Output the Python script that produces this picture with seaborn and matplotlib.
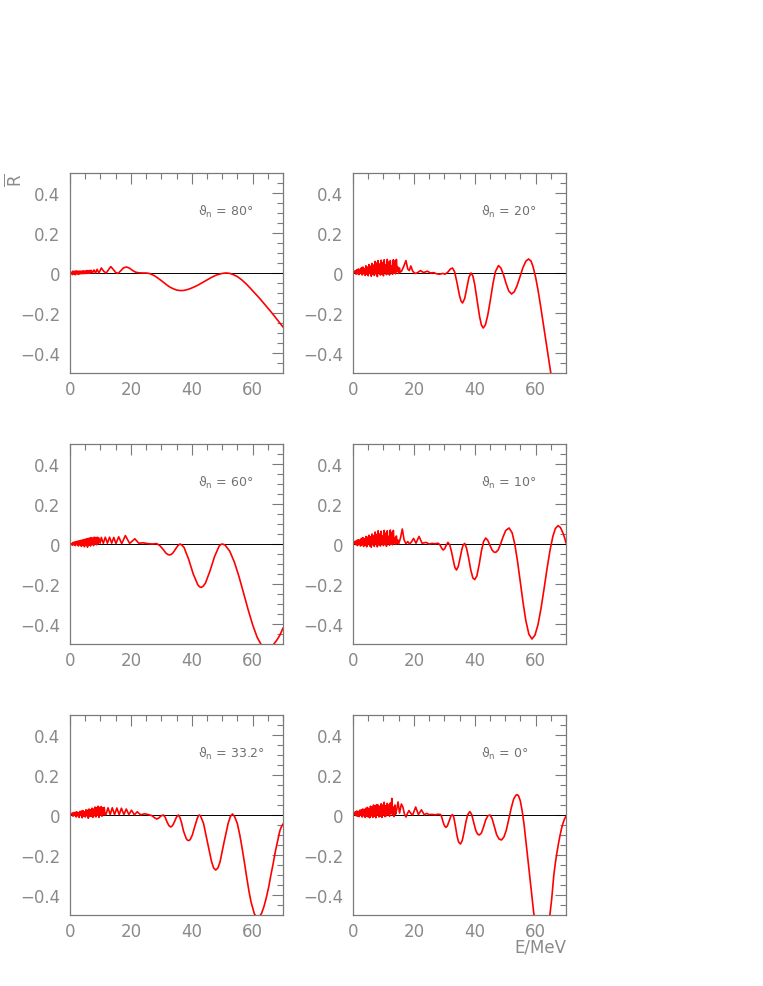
import numpy as np
import matplotlib
matplotlib.use("Agg")
import matplotlib.pyplot as plt
import seaborn as sns

# ---------------- data ----------------
E_80 = [0.5, 0.75, 1.0, 1.25, 1.5, 1.75, 2.0, 2.25, 2.5, 2.75, 3.0, 3.25, 3.5, 3.75,
        4.0, 4.25, 4.5, 4.75, 5.0, 5.25, 5.5, 5.75, 6.0, 6.25, 6.5, 6.75, 7.0,
        7.4, 7.9, 8.4, 8.9, 9.5, 10.3, 11.1, 11.9, 12.6, 13.4, 14.2, 15.0, 15.8, 16.6,
        17.6, 18.6, 19.6, 20.6, 21.6, 22.6, 24.0, 25.0, 26.0, 27.0, 28.0, 29.0, 30.0,
        31.0, 32.0, 33.0, 34.0, 35.0, 36.2, 37.5, 39.0, 40.5, 42.0, 43.5, 45.0, 46.5,
        48.0, 49.5, 50.5, 51.5, 52.5, 53.5, 55.0, 56.5, 58.0, 59.5, 61.0, 62.5, 64.0,
        65.5, 67.0, 68.5, 70.0]
R_80 = [0.004, -0.008, 0.010, -0.006, 0.008, -0.009, 0.011, -0.004, 0.009, -0.007, 0.010,
        -0.005, 0.009, -0.003, 0.010, -0.004, 0.011, -0.002, 0.010, -0.003, 0.012, -0.001,
        0.011, -0.002, 0.013, 0.000, 0.013,
        0.001, 0.015, 0.000, 0.018, 0.000, 0.025, 0.008, 0.000, 0.015, 0.032, 0.018, 0.003,
        -0.002, 0.010, 0.026, 0.030, 0.024, 0.012, 0.004, 0.001, 0.000, 0.000, -0.002,
        -0.008, -0.016, -0.027, -0.038, -0.050, -0.062, -0.072, -0.079, -0.085, -0.088,
        -0.087, -0.081, -0.072, -0.061, -0.048, -0.035, -0.022, -0.011, -0.004, -0.001,
        0.000, -0.002, -0.007, -0.018, -0.035, -0.056, -0.080, -0.105, -0.130, -0.157,
        -0.184, -0.212, -0.241, -0.270]

E_20 = [0.5, 0.75, 1.0, 1.25, 1.5, 1.75, 2.0, 2.25, 2.5, 2.75, 3.0, 3.25, 3.5, 3.75,
        4.0, 4.25, 4.5, 4.75, 5.0, 5.25, 5.5, 5.75, 6.0, 6.25, 6.5, 6.75, 7.0, 7.25,
        7.5, 7.75, 8.0, 8.25, 8.5, 8.75, 9.0, 9.25, 9.5, 9.75, 10.0, 10.25, 10.5, 10.75,
        11.0, 11.25, 11.5, 11.75, 12.0, 12.25, 12.5, 12.75, 13.0, 13.25, 13.5, 13.75,
        14.0, 14.25, 14.5, 14.75, 15.0, 15.25, 15.5,
        16.0, 16.6, 17.4, 18.0, 18.5, 19.0, 19.6, 20.3, 21.0, 22.2, 23.2, 24.4, 25.5,
        26.5, 27.5, 28.5, 29.5, 30.3, 31.2, 32.0, 32.7, 33.4, 34.2, 35.0, 35.5, 36.0,
        36.7, 37.4, 38.1, 38.8, 39.4, 40.0, 40.8, 41.6, 42.2, 42.8, 43.5, 44.3, 45.2,
        46.0, 46.8, 47.8, 48.6, 49.4, 50.3, 51.2, 52.1, 53.0, 53.9, 54.9, 55.8, 56.8,
        57.7, 58.5, 59.2, 60.0, 60.8, 61.6, 62.5, 63.4, 64.2, 65.0, 66.5, 70.0]
R_20 = [0.002, 0.012, -0.006, 0.016, -0.004, 0.020, -0.008, 0.018, -0.002, 0.026, -0.010,
        0.030, -0.004, 0.022, -0.012, 0.036, -0.006, 0.030, -0.014, 0.042, 0.000, 0.034,
        -0.016, 0.048, -0.006, 0.040, -0.012, 0.058, -0.004, 0.050, -0.018, 0.062, 0.002,
        0.045, -0.010, 0.064, -0.006, 0.052, -0.014, 0.066, 0.004, 0.040, -0.008, 0.068,
        -0.004, 0.055, -0.010, 0.062, 0.006, 0.035, -0.006, 0.066, 0.000, 0.060, -0.004,
        0.068, 0.010, 0.030, -0.002, 0.025, 0.004,
        0.010, 0.030, 0.062, 0.020, 0.012, 0.035, 0.010, -0.002, 0.000, 0.012, 0.002,
        0.009, 0.000, 0.002, -0.004, -0.006, -0.002, -0.006, 0.005, 0.020, 0.025, 0.006,
        -0.050, -0.113, -0.140, -0.150, -0.128, -0.075, -0.022, 0.000, -0.015, -0.057,
        -0.138, -0.218, -0.260, -0.275, -0.260, -0.210, -0.130, -0.053, 0.007, 0.037,
        0.025, -0.006, -0.052, -0.090, -0.105, -0.094, -0.064, -0.018, 0.025, 0.059,
        0.070, 0.060, 0.030, -0.020, -0.085, -0.160, -0.250, -0.340, -0.420, -0.500,
        -0.640, -0.950]

E_60 = [0.5, 0.75, 1.0, 1.25, 1.5, 1.75, 2.0, 2.25, 2.5, 2.75, 3.0, 3.25, 3.5, 3.75,
        4.0, 4.25, 4.5, 4.75, 5.0, 5.25, 5.5, 5.75, 6.0, 6.25, 6.5, 6.75, 7.0, 7.25,
        7.5, 7.75, 8.0, 8.25, 8.5, 8.75, 9.0, 9.25, 9.5,
        9.9, 10.3, 10.95, 11.6, 12.3, 13.0, 13.7, 14.4, 15.1, 16.0, 17.0, 18.2, 19.6,
        21.3, 22.6, 24.0, 25.5, 27.0, 28.5, 29.5, 30.5, 31.5, 32.1, 32.7, 33.3, 33.8,
        34.4, 35.0, 35.6, 36.2, 36.8, 37.5, 39.0, 40.5, 42.0, 42.6, 43.1, 43.7, 44.5,
        46.0, 47.5, 49.0, 49.5, 50.0, 50.5, 51.0, 52.5, 54.0, 55.5, 57.0, 58.5, 60.0,
        61.5, 63.0, 64.7, 66.5, 68.0, 69.0, 70.0]
R_60 = [0.002, -0.006, 0.008, -0.004, 0.010, -0.008, 0.012, -0.002, 0.014, -0.010, 0.016,
        -0.004, 0.018, -0.012, 0.020, -0.006, 0.022, -0.014, 0.024, -0.004, 0.026, -0.016,
        0.028, -0.006, 0.030, -0.010, 0.032, -0.002, 0.030, -0.008, 0.034, 0.000, 0.032,
        -0.004, 0.034, 0.002, 0.030,
        0.004, 0.033, 0.003, 0.034, 0.004, 0.034, 0.004, 0.033, 0.002, 0.036, 0.002, 0.042,
        0.003, 0.026, 0.004, 0.006, 0.002, 0.000, 0.002, -0.008, -0.025, -0.045, -0.052,
        -0.055, -0.052, -0.045, -0.032, -0.018, -0.006, 0.000, -0.006, -0.018, -0.077,
        -0.150, -0.204, -0.214, -0.217, -0.212, -0.196, -0.135, -0.063, -0.011, -0.003,
        0.000, -0.002, -0.006, -0.036, -0.090, -0.161, -0.243, -0.326, -0.403, -0.466,
        -0.508, -0.525, -0.510, -0.480, -0.455, -0.420]

E_10 = [0.5, 0.75, 1.0, 1.25, 1.5, 1.75, 2.0, 2.25, 2.5, 2.75, 3.0, 3.25, 3.5, 3.75,
        4.0, 4.25, 4.5, 4.75, 5.0, 5.25, 5.5, 5.75, 6.0, 6.25, 6.5, 6.75, 7.0, 7.25,
        7.5, 7.75, 8.0, 8.25, 8.5, 8.75, 9.0, 9.25, 9.5, 9.75, 10.0, 10.25, 10.5, 10.75,
        11.0, 11.25, 11.5, 11.75, 12.0, 12.25, 12.5, 12.75, 13.0, 13.25, 13.5, 13.75,
        14.0, 14.25, 14.5, 14.75, 15.0,
        15.6, 16.2, 16.8, 17.4, 18.0, 18.6, 19.2, 19.9, 20.7, 21.7, 22.7, 24.0, 25.0,
        26.0, 27.0, 28.0, 28.6, 29.1, 29.6, 30.1, 30.6, 31.2, 31.8, 32.4, 33.0, 33.5,
        34.0, 34.6, 35.2, 35.8, 36.2, 36.7, 37.3, 38.0, 38.7, 39.4, 40.0, 40.7, 41.5,
        42.2, 42.9, 43.6, 44.3, 45.0, 45.7, 46.3, 46.9, 47.7, 48.5, 49.3, 50.2, 51.3,
        52.3, 53.2, 54.1, 55.0, 55.9, 56.8, 57.8, 58.8, 59.8, 60.8, 61.8, 62.8, 63.8,
        64.8, 65.7, 66.5, 67.4, 68.2, 69.0, 69.5, 70.0]
R_10 = [0.004, 0.014, -0.004, 0.018, -0.008, 0.022, -0.002, 0.020, -0.010, 0.028, -0.004,
        0.032, -0.012, 0.026, -0.006, 0.038, -0.014, 0.034, 0.000, 0.044, -0.010, 0.036,
        -0.016, 0.050, -0.004, 0.042, -0.012, 0.060, 0.000, 0.048, -0.014, 0.066, -0.004,
        0.050, -0.010, 0.064, 0.002, 0.040, -0.008, 0.068, -0.002, 0.054, -0.012, 0.066,
        0.004, 0.038, -0.006, 0.070, 0.000, 0.058, -0.004, 0.068, 0.006, 0.030, -0.002,
        0.040, 0.004, 0.020, 0.000,
        0.030, 0.075, 0.020, 0.002, 0.012, 0.000, 0.010, 0.028, 0.004, 0.038, 0.004,
        0.008, 0.000, 0.003, 0.001, 0.004, -0.005, -0.020, -0.030, -0.024, -0.008, 0.008,
        -0.005, -0.040, -0.085, -0.118, -0.130, -0.112, -0.070, -0.025, -0.005, 0.003,
        -0.020, -0.070, -0.130, -0.170, -0.178, -0.160, -0.100, -0.035, 0.012, 0.030,
        0.018, -0.006, -0.030, -0.040, -0.042, -0.030, 0.000, 0.035, 0.068, 0.080, 0.056,
        -0.003, -0.090, -0.192, -0.294, -0.383, -0.451, -0.475, -0.456, -0.403, -0.321,
        -0.223, -0.120, -0.027, 0.039, 0.077, 0.092, 0.082, 0.055, 0.033, 0.005]

E_33 = [0.5, 0.75, 1.0, 1.25, 1.5, 1.75, 2.0, 2.25, 2.5, 2.75, 3.0, 3.25, 3.5, 3.75,
        4.0, 4.25, 4.5, 4.75, 5.0, 5.25, 5.5, 5.75, 6.0, 6.25, 6.5, 6.75, 7.0, 7.25,
        7.5, 7.75, 8.0, 8.25, 8.5, 8.75, 9.0, 9.25, 9.5, 9.75, 10.0, 10.25, 10.5, 10.75,
        11.0, 11.25, 11.5,
        11.85, 12.5, 13.2, 13.9, 14.65, 15.4, 16.15, 16.9, 17.7, 18.5, 19.35, 20.2, 21.15,
        22.1, 23.2, 24.5, 25.8, 27.0, 27.8, 28.5, 29.1, 29.9, 30.7, 31.3, 31.9, 32.5,
        33.1, 33.7, 34.3, 35.0, 35.6, 36.1, 36.6, 37.3, 38.2, 38.6, 39.0, 39.5, 40.2,
        41.0, 41.8, 42.2, 42.5, 42.9, 43.9, 45.2, 46.5, 47.2, 47.9, 48.6, 49.3, 50.6,
        52.0, 52.7, 53.4, 54.1, 55.0, 55.8, 56.5, 57.3, 58.0, 58.8, 59.5, 60.6, 61.6,
        62.3, 63.0, 63.8, 64.5, 65.3, 66.0, 66.8, 67.5, 68.3, 69.0, 69.5, 70.0]
R_33 = [0.002, 0.010, -0.006, 0.012, -0.002, 0.014, -0.010, 0.016, -0.004, 0.012, -0.012,
        0.018, -0.002, 0.020, -0.014, 0.022, -0.006, 0.016, -0.010, 0.026, -0.004, 0.024,
        -0.016, 0.030, -0.008, 0.026, -0.006, 0.034, -0.012, 0.030, -0.004, 0.040, -0.010,
        0.036, -0.002, 0.044, -0.012, 0.038, 0.000, 0.042, -0.006, 0.036, 0.002, 0.038,
        0.000,
        0.004, 0.036, 0.002, 0.036, 0.002, 0.035, 0.002, 0.034, 0.002, 0.030, 0.002,
        0.024, 0.001, 0.016, 0.001, 0.006, 0.002, -0.004, -0.014, -0.020, -0.016, -0.005,
        0.000, -0.012, -0.035, -0.053, -0.060, -0.053, -0.035, -0.010, 0.000, -0.012,
        -0.035, -0.080, -0.118, -0.126, -0.128, -0.123, -0.100, -0.058, -0.018, -0.004,
        0.000, -0.005, -0.043, -0.138, -0.232, -0.265, -0.275, -0.265, -0.235, -0.138,
        -0.040, -0.008, 0.005, -0.008, -0.043, -0.100, -0.160, -0.235, -0.305, -0.380,
        -0.435, -0.495, -0.515, -0.508, -0.490, -0.455, -0.414, -0.360, -0.302, -0.240,
        -0.181, -0.125, -0.077, -0.058, -0.045]

E_0 = [0.5, 0.75, 1.0, 1.25, 1.5, 1.75, 2.0, 2.25, 2.5, 2.75, 3.0, 3.25, 3.5, 3.75,
       4.0, 4.25, 4.5, 4.75, 5.0, 5.25, 5.5, 5.75, 6.0, 6.25, 6.5, 6.75, 7.0, 7.25,
       7.5, 7.75, 8.0, 8.25, 8.5, 8.75, 9.0, 9.25, 9.5, 9.75, 10.0, 10.25, 10.5, 10.75,
       11.0, 11.25, 11.5, 11.75, 12.0, 12.25, 12.5, 12.75, 13.0, 13.25, 13.5, 13.75, 14.0,
       14.4, 14.8, 15.3, 15.9, 16.4, 16.9, 17.4, 17.9, 18.4, 19.0, 19.6, 20.6, 21.5,
       22.5, 23.4, 24.2, 25.0, 26.0, 27.0, 28.0, 28.8, 29.2, 29.6, 30.0, 30.5, 31.0,
       31.6, 32.2, 32.7, 33.1, 33.6, 34.2, 34.7, 35.3, 35.9, 36.5, 37.1, 37.7, 38.4,
       39.0, 39.6, 40.3, 40.9, 41.5, 42.2, 42.9, 43.6, 44.3, 45.0, 45.7, 46.4, 47.2,
       48.0, 48.8, 49.6, 50.4, 51.2, 52.0, 52.8, 53.5, 53.9, 54.4, 55.0, 55.6, 56.2,
       56.9, 57.5, 58.1, 58.8, 59.4, 60.0, 61.0, 61.7, 62.3, 62.9, 63.5, 64.1, 64.7,
       65.3, 66.0, 66.5, 67.0, 67.5, 68.0, 68.5, 69.0, 69.5, 70.0]
R_0 = [0.004, 0.016, -0.004, 0.020, -0.006, 0.018, -0.008, 0.024, -0.002, 0.026, -0.010,
       0.030, -0.004, 0.028, -0.012, 0.034, -0.006, 0.038, -0.010, 0.030, -0.014, 0.044,
       -0.004, 0.040, -0.012, 0.050, -0.006, 0.046, -0.014, 0.052, 0.000, 0.050, -0.010,
       0.044, -0.006, 0.056, -0.012, 0.050, 0.000, 0.064, -0.008, 0.046, -0.004, 0.058,
       0.002, 0.050, -0.006, 0.060, 0.010, 0.083, 0.000, 0.040, -0.008, 0.050, 0.004,
       0.030, 0.065, 0.010, 0.055, 0.040, 0.005, -0.010, 0.008, 0.022, 0.008, 0.000,
       0.040, 0.002, 0.026, 0.001, 0.008, 0.002, 0.003, 0.001, 0.004, 0.002, -0.012,
       -0.035, -0.052, -0.062, -0.055, -0.030, -0.005, 0.002, -0.010, -0.050, -0.105,
       -0.135, -0.145, -0.128, -0.085, -0.035, 0.002, 0.017, 0.003, -0.032, -0.075,
       -0.095, -0.100, -0.090, -0.060, -0.025, -0.004, 0.000, -0.017, -0.055, -0.098,
       -0.120, -0.125, -0.110, -0.075, -0.020, 0.035, 0.080, 0.098, 0.102, 0.096, 0.070,
       0.020, -0.045, -0.140, -0.225, -0.310, -0.410, -0.490, -0.560, -0.650, -0.690,
       -0.700, -0.680, -0.630, -0.570, -0.500, -0.420, -0.300, -0.240, -0.190, -0.145,
       -0.105, -0.070, -0.042, -0.020, -0.007]

panel_labels = ["80°", "20°", "60°", "10°", "33.2°", "0°"]
panel_E = [E_80, E_20, E_60, E_10, E_33, E_0]
panel_R = [R_80, R_20, R_60, R_10, R_33, R_0]

x_major = [0, 20, 40, 60]
x_minor = [5, 10, 15, 25, 30, 35, 45, 50, 55, 65, 70]
y_major = [-0.4, -0.2, 0.0, 0.2, 0.4]
y_labels = ["\u22120.4", "\u22120.2", "0", "0.2", "0.4"]
y_minor = [-0.45, -0.35, -0.3, -0.25, -0.15, -0.1, -0.05, 0.05, 0.1, 0.15, 0.25,
           0.3, 0.35, 0.45]

# ---------------- figure ----------------
sns.set_style("white")
plt.rcParams["font.family"] = ["DejaVu Sans"]

W, H = 763, 987
fig = plt.figure(figsize=(W / 100, H / 100), dpi=100)

cols_px = [70, 353]
rows_px = [(174, 374), (445, 645), (716, 916)]
pw = 213

grey_txt = "#8a8a8a"
grey_ax = "#7a7a7a"

for i in range(6):
    r, c = divmod(i, 2)
    top, bot = rows_px[r]
    ax = fig.add_axes([cols_px[c] / W, 1 - bot / H, pw / W, (bot - top) / H])
    ax.axhline(0, color="black", lw=0.7, zorder=1)
    sns.lineplot(x=panel_E[i], y=panel_R[i], ax=ax, color="red", lw=1.2,
                 estimator=None, sort=False, zorder=3)
    ax.set_xlim(0, 70)
    ax.set_ylim(-0.5, 0.5)
    ax.set_xticks(x_major)
    ax.set_xticks(x_minor, minor=True)
    ax.set_yticks(y_major)
    ax.set_yticklabels(y_labels)
    ax.set_yticks(y_minor, minor=True)
    ax.set_xlabel("")
    ax.set_ylabel("")
    ax.tick_params(which="both", direction="in", top=True, right=True,
                   color=grey_ax, width=0.8)
    ax.tick_params(which="major", length=8, labelsize=12, labelcolor=grey_txt)
    ax.tick_params(which="minor", length=4)
    ax.tick_params(axis="x", pad=5)
    ax.tick_params(axis="y", pad=7)
    for s in ax.spines.values():
        s.set_color(grey_ax)
        s.set_linewidth(0.9)
    ax.text(42, 0.31, r"$\mathrm{\vartheta}_{\mathrm{n}}$ = " + panel_labels[i],
            fontsize=9, color="#707070", va="center", ha="left")

fig.text(15 / W, 1 - 180 / H, r"$\overline{\mathrm{R}}$", rotation=90, fontsize=12,
         color=grey_txt, ha="center", va="center")
fig.text(566 / W, 1 - 948 / H, "E/MeV", fontsize=12, color=grey_txt,
         ha="right", va="center")

fig.savefig("out.png", dpi=100)
